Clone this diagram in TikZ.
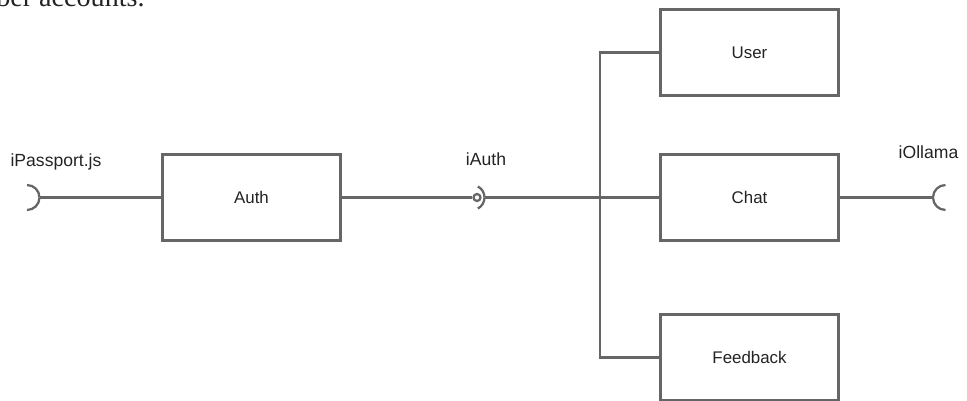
\documentclass[tikz,border=0pt]{standalone}
\usepackage{fontspec}
\setmainfont{Liberation Sans}
\newfontfamily\bodyfont{Liberation Serif}
\usepackage{tikz}
\definecolor{wire}{RGB}{102,102,102}
\definecolor{ink}{RGB}{35,35,35}

\begin{document}
\begin{tikzpicture}[x=0.025cm, y=-0.025cm,
    comp/.style={draw=wire, line width=1.6pt, fill=white, minimum width=4.45cm,
      minimum height=2.15cm, text=ink, font=\fontsize{12}{14}\selectfont},
    wire/.style={draw=wire, line width=1.6pt},
    port/.style={text=ink, font=\fontsize{12.5}{14}\selectfont, anchor=base, inner sep=0pt}]
  \useasboundingbox (0,0) rectangle (967,401);
  \begin{scope}
    \clip (0,0) rectangle (967,401);
    \node[anchor=base west, inner sep=0pt, text=ink,
      font=\bodyfont\fontsize{20}{22}\selectfont] (page) at (-4,6) {ber accounts.};
  \end{scope}

  % components
  \node[comp] (auth) at (251.5,197.5) {Auth};
  \node[comp] (user) at (749.5,52.5) {User};
  \node[comp] (chat) at (749.5,197.5) {Chat};
  \node[comp] (feedback) at (749.5,357.5) {Feedback};

  % interface ends
  \coordinate (passport) at (39.5,197.5);
  \coordinate (ball) at (477,197.5);
  \coordinate (cup) at (484.5,197.5);
  \coordinate (ollama) at (933,197.5);
  \coordinate (bus) at (600,197.5);

  % required iPassport.js
  \draw[wire] (passport) arc (0:90:12.5);
  \draw[wire] (passport) arc (0:-90:12.5);
  \draw[wire] (passport) -- (auth.west);
  \node[port] (passportlbl) at (56,166) {iPassport.js};

  % provided and required iAuth
  \draw[wire] (auth.east) -- ([xshift=-3.5]ball);
  \draw[wire] (ball) circle (3.5);
  \draw[wire] (cup) arc (0:62:12.5);
  \draw[wire] (cup) arc (0:-62:12.5);
  \draw[wire] (cup) -- (chat.west);
  \node[port] (authlbl) at (486,165) {iAuth};

  % fan out to the services
  \draw[wire] (user.west) -| (bus) |- (feedback.west);

  % required iOllama
  \draw[wire] (chat.east) -- (ollama);
  \draw[wire] (ollama) arc (180:90:12.5);
  \draw[wire] (ollama) arc (180:270:12.5);
  \node[port] (ollamalbl) at (928.5,158) {iOllama};
\end{tikzpicture}
\end{document}
